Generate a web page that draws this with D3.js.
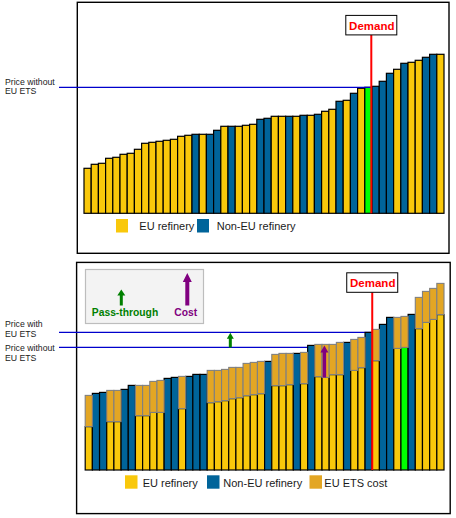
<!DOCTYPE html>
<html><head><meta charset="utf-8">
<script src="https://cdn.jsdelivr.net/npm/d3@7"></script>
<style>body{margin:0;background:#fff}svg{display:block;font-family:"Liberation Sans",Arial,sans-serif}</style>
</head><body><svg id="c" width="456" height="518"></svg>
<script>
// ---------- DATA ----------
// Top panel: supply curve without EU ETS (price per refinery, sorted)
const topPrice = [22.5,24.5,25,27.5,28,29.5,30,32,35,35.5,36,36.5,37,38.5,39,39.5,39.5,39.5,41.5,43.5,
  43.5,43.5,44,44.5,47,47.5,48.5,48.5,48.5,48.5,49,49,49.5,51,52,56,56.5,60,62.5,63,
  63.5,66,70,72,75,75.5,76.5,78,79.5,79.5];
// E = EU refinery, N = Non-EU refinery, M = marginal refinery
const topType = ["E","E","E","E","E","E","E","E","E","E","E","E","E","E","E","N","E","N","N","E",
  "N","E","E","E","N","N","E","E","N","E","N","E","N","E","E","N","E","N","E","M",
  "N","N","N","E","N","E","E","N","N","E"];
// Bottom panel: supply curve with EU ETS
const botBase = [21.7,38.3,38.8,24.2,24.2,40.3,42.3,27.2,27.2,28.8,28.8,45.8,46.3,30.7,46.8,47.8,47.8,33.7,34.2,34.7,
  35.7,36.2,37.2,37.7,38.2,54.3,42.2,42.2,42.7,58.3,43.2,62.3,46.7,46.3,47.7,47.7,63.8,49.8,51.2,68.8,
  54.7,72.8,76.3,60.8,61.3,77.8,70.7,73.8,75.3,77.7];
const botCost = [15.6,0,0,15.6,15.6,0,0,15.1,15.1,15.5,16,0,0,16.1,0,0,0,16.1,15.6,15.6,
  15.6,15.1,16.1,16.1,16.1,0,15.6,16.1,15.6,0,15.6,0,16.1,16.5,15.1,16.1,0,15.5,15.1,0,
  15.6,0,0,15.5,15.5,0,15.6,15.5,15.5,15.6];
const botType = ["E","N","N","E","E","N","N","E","E","E","E","N","N","E","N","N","N","E","E","E",
  "E","E","E","E","E","N","E","E","E","N","E","N","E","E","E","E","N","E","E","N",
  "E","N","N","E","M","N","E","E","E","E"];
const demandAfter = 40;          // demand line sits after the 40th refinery
const topPriceWithout = 63;
const botPriceWithout = 61.3;
const botPriceWith = 68.8;
const passThroughBar = 21;       // bar where the pass-through arrow is shown
const costArrowBar = 34;         // bar where the cost arrow is shown
const legendTop = ["EU refinery","Non-EU refinery"];
const legendBot = ["EU refinery","Non-EU refinery","EU ETS cost"];

// ---------- STYLE ----------
const C = {E:"#F9C80B", N:"#00649A", M:"#00FF00", cost:"#E3A624", line:"#0000CC", red:"#FF0000"};
const svg = d3.select("#c");
svg.append("rect").attr("width",456).attr("height",518).attr("fill","#fff");

function arrow(g, x, yTip, yEnd, headW, headH, shaftW, color){
  const p = d3.path();
  p.moveTo(x, yTip); p.lineTo(x+headW/2, yTip+headH); p.lineTo(x+shaftW/2, yTip+headH);
  p.lineTo(x+shaftW/2, yEnd); p.lineTo(x-shaftW/2, yEnd); p.lineTo(x-shaftW/2, yTip+headH);
  p.lineTo(x-headW/2, yTip+headH); p.closePath();
  g.append("path").attr("d", p.toString()).attr("fill", color);
}
function leftLabel(lines, yb){
  lines.forEach((t,i)=>svg.append("text").attr("x",5).attr("y",yb+i*9.4).attr("font-size",8.7)
    .attr("fill","#1a1a1a").text(t));
}
function demandBox(x, y0, y1, yTop){
  svg.append("line").attr("x1",x).attr("x2",x).attr("y1",y0).attr("y2",y1)
    .attr("stroke",C.red).attr("stroke-width",2);
  svg.append("rect").attr("x",x-25.5).attr("y",yTop).attr("width",51).attr("height",19.5)
    .attr("fill","#fff").attr("stroke","#000").attr("stroke-width",1);
  svg.append("text").attr("x",x+0.5).attr("y",yTop+14.2).attr("text-anchor","middle")
    .attr("font-size",11.5).attr("font-weight","bold").attr("fill",C.red).text("Demand");
}

// ---------- TOP PANEL ----------
const xT = d3.scaleBand().domain(d3.range(topPrice.length)).range([84,444]);
const yT = d3.scaleLinear().domain([0,100]).range([213.3,13.3]);
svg.append("rect").attr("x",77.3).attr("y",2.3).attr("width",371.7).attr("height",251)
  .attr("fill","none").attr("stroke","#000").attr("stroke-width",1.4);
svg.append("g").selectAll("rect").data(topPrice).join("rect")
  .attr("x",(d,i)=>xT(i)).attr("width",xT.bandwidth())
  .attr("y",d=>yT(d)).attr("height",d=>yT(0)-yT(d))
  .attr("fill",(d,i)=>C[topType[i]]).attr("stroke","#000").attr("stroke-width",1.2);
const dXT = xT(demandAfter-1)+xT.bandwidth()-0.7;
svg.append("line").attr("x1",59).attr("x2",dXT).attr("y1",yT(topPriceWithout)).attr("y2",yT(topPriceWithout))
  .attr("stroke",C.line).attr("stroke-width",1.2);
leftLabel(["Price without","EU ETS"], 85);
demandBox(dXT, 35, yT(0), 15.4);
// top legend
[[116,C.E,139.3],[197,C.N,216.7]].forEach((l,i)=>{
  svg.append("rect").attr("x",l[0]).attr("y",219).attr("width",12).attr("height",13.5).attr("fill",l[1]);
  svg.append("text").attr("x",l[2]).attr("y",229.8).attr("font-size",11).attr("fill","#1a1a1a").text(legendTop[i]);
});

// ---------- BOTTOM PANEL ----------
const xB = d3.scaleBand().domain(d3.range(botBase.length)).range([85.2,444]);
const yB = d3.scaleLinear().domain([0,100]).range([470,270]);
svg.append("rect").attr("x",76.6).attr("y",262.4).attr("width",373.6).attr("height",251.2)
  .attr("fill","none").attr("stroke","#000").attr("stroke-width",1.4);
// info box
const box = svg.append("g");
box.append("rect").attr("x",85.5).attr("y",269.5).attr("width",118).attr("height",54)
  .attr("fill","#F3F3F3").attr("stroke","#BDBDBD").attr("stroke-width",1.2);
arrow(box, 121.3, 289.5, 305.5, 8, 6, 3, "#008000");
arrow(box, 187.3, 273, 305.5, 9, 9, 4, "#800080");
box.append("text").attr("x",125).attr("y",315.5).attr("text-anchor","middle").attr("font-size",10.3)
  .attr("font-weight","bold").attr("fill","#008000").text("Pass-through");
box.append("text").attr("x",185.7).attr("y",315.5).attr("text-anchor","middle").attr("font-size",10.3)
  .attr("font-weight","bold").attr("fill","#800080").text("Cost");
// price lines
const dXB = xB(demandAfter-1)+xB.bandwidth();
const margIdx = botType.indexOf("M");
svg.append("line").attr("x1",59).attr("x2",dXB).attr("y1",yB(botPriceWith)).attr("y2",yB(botPriceWith))
  .attr("stroke",C.line).attr("stroke-width",1.2);
svg.append("line").attr("x1",59).attr("x2",xB(margIdx)+xB.bandwidth()).attr("y1",yB(botPriceWithout)).attr("y2",yB(botPriceWithout))
  .attr("stroke",C.line).attr("stroke-width",1.2);
leftLabel(["Price with","EU ETS"], 327.2);
leftLabel(["Price without","EU ETS"], 351.3);
// bars
const gb = svg.append("g");
gb.selectAll("rect.base").data(botBase).join("rect").attr("class","base")
  .attr("x",(d,i)=>xB(i)).attr("width",xB.bandwidth())
  .attr("y",d=>yB(d)).attr("height",d=>yB(0)-yB(d))
  .attr("fill",(d,i)=>C[botType[i]]).attr("stroke","#000").attr("stroke-width",1.2);
gb.selectAll("rect.cost").data(botCost.map((c,i)=>({c,i})).filter(d=>d.c>0)).join("rect").attr("class","cost")
  .attr("x",d=>xB(d.i)).attr("width",xB.bandwidth())
  .attr("y",d=>yB(botBase[d.i]+d.c)).attr("height",d=>yB(botBase[d.i])-yB(botBase[d.i]+d.c))
  .attr("fill",C.cost).attr("stroke","#808080").attr("stroke-width",1.1);
// arrows in plot
arrow(svg, xB(passThroughBar-1)+1.6, yB(botPriceWith)+0.3, yB(botPriceWithout), 7, 6, 3, "#008000");
const ci = costArrowBar-1;
arrow(svg, xB(ci)+xB.bandwidth()/2-1.2, yB(botBase[ci]+botCost[ci])+1, yB(botBase[ci]), 8, 7, 3.5, "#800080");
demandBox(dXB, 292.3, yB(0), 272.8);
// bottom legend
[[125,C.E,142.7],[207,C.N,223.3],[309.5,C.cost,324.3]].forEach((l,i)=>{
  svg.append("rect").attr("x",l[0]).attr("y",475.3).attr("width",12.5).attr("height",13.4).attr("fill",l[1]);
  svg.append("text").attr("x",l[2]).attr("y",487).attr("font-size",11).attr("fill","#1a1a1a").text(legendBot[i]);
});
</script></body></html>
